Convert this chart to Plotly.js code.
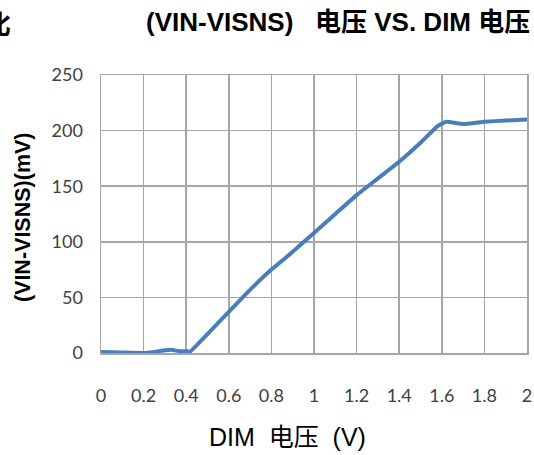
<!DOCTYPE html>
<html>
<head>
<meta charset="utf-8">
<script src="https://cdn.plot.ly/plotly-3.0.1.min.js"></script>
<style>html,body{margin:0;padding:0;background:#fff;}#chart{width:534px;height:455px;}</style>
</head>
<body>
<div id="chart"></div>
<script>
const dimVoltage = [0, 0.1, 0.2, 0.25, 0.3, 0.33, 0.37, 0.4, 0.42, 0.5, 0.6, 0.68, 0.8, 0.9, 1.0, 1.1, 1.2, 1.3, 1.4, 1.5, 1.58, 1.62, 1.7, 1.8, 1.9, 2.0];
const senseVoltage = [1, 0.5, 0, 1, 2.5, 3, 1.5, 1.5, 1.5, 17, 37, 53, 75, 91, 108, 125, 142, 157, 172, 189, 204, 208, 206, 208, 209, 210];
const xTicks = [0, 0.2, 0.4, 0.6, 0.8, 1, 1.2, 1.4, 1.6, 1.8, 2];
const xTickText = ['0', '0.2', '0.4', '0.6', '0.8', '1', '1.2', '1.4', '1.6', '1.8', '2'];
const yTicks = [0, 50, 100, 150, 200, 250];

const trace = {
  x: dimVoltage, y: senseVoltage, type: 'scatter', mode: 'lines',
  line: {color: '#4a7ebb', width: 4, shape: 'spline', smoothing: 0.3},
  hoverinfo: 'skip'
};
const layout = {
  width: 534, height: 455,
  margin: {l: 101, r: 7, t: 75, b: 102},
  paper_bgcolor: '#fff', plot_bgcolor: '#fff',
  showlegend: false,
  xaxis: {
    range: [0, 2], tickvals: xTicks, ticktext: xTickText,
    showgrid: true, gridcolor: '#a6a6a6', gridwidth: 1.5,
    showline: true, linecolor: '#a6a6a6', linewidth: 1.5, mirror: true,
    zeroline: false, ticks: '', ticklabelstandoff: 26,
    tickfont: {family: 'Lato, sans-serif', size: 18, color: '#404040'}
  },
  yaxis: {
    range: [0, 250], tickvals: yTicks,
    showgrid: true, gridcolor: '#a6a6a6', gridwidth: 1.5,
    showline: true, linecolor: '#a6a6a6', linewidth: 1.5, mirror: true,
    zeroline: false, ticks: '', ticklabelstandoff: 13,
    tickfont: {family: 'Lato, sans-serif', size: 18, color: '#404040'}
  },
  annotations: [
    {text: '<b>(VIN-VISNS)&nbsp;&nbsp;&nbsp;电压 VS. DIM 电压</b>', xref: 'paper', yref: 'paper', x: 1.0, y: 1.1906, xanchor: 'right', yanchor: 'middle',
     xshift: 5, showarrow: false, font: {family: 'Liberation Sans, Noto Sans CJK SC, sans-serif', size: 26, color: '#000'}},
    {text: '<b>比</b>', xref: 'paper', yref: 'paper', x: 0, y: 1.1906, xanchor: 'left', yanchor: 'middle',
     xshift: -118, showarrow: false, font: {family: 'Noto Sans CJK SC, sans-serif', size: 26, color: '#000'}},
    {text: 'DIM  电压  (V)', xref: 'paper', yref: 'paper', x: 0.4378, y: -0.302, xanchor: 'center', yanchor: 'middle',
     showarrow: false, font: {family: 'Liberation Sans, Noto Sans CJK SC, sans-serif', size: 25, color: '#000'}},
    {text: '<b>(VIN-VISNS)(mV)</b>', xref: 'paper', yref: 'paper', x: -0.183, y: 0.489, xanchor: 'center', yanchor: 'middle',
     textangle: -90, showarrow: false, font: {family: 'Liberation Sans, sans-serif', size: 21.5, color: '#000'}}
  ]
};
Plotly.newPlot('chart', [trace], layout, {displayModeBar: false, staticPlot: true});
</script>
</body>
</html>
